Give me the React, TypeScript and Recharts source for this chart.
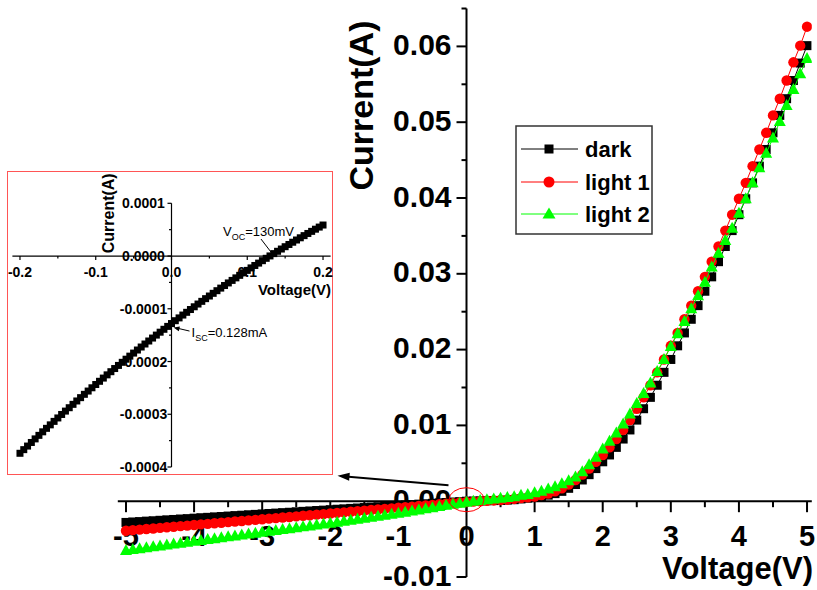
import React from 'react';
import { ScatterChart, Scatter, XAxis, YAxis, ReferenceLine, ReferenceDot, Legend } from 'recharts';

const FONT = '"Liberation Sans", Arial, Helvetica, sans-serif';

// main sweep, -5 V .. 5 V
const voltage = [
  -5, -4.9, -4.8, -4.7, -4.6, -4.5, -4.4, -4.3, -4.2, -4.1,
  -4, -3.9, -3.8, -3.7, -3.6, -3.5, -3.4, -3.3, -3.2, -3.1,
  -3, -2.9, -2.8, -2.7, -2.6, -2.5, -2.4, -2.3, -2.2, -2.1,
  -2, -1.9, -1.8, -1.7, -1.6, -1.5, -1.4, -1.3, -1.2, -1.1,
  -1, -0.9, -0.8, -0.7, -0.6, -0.5, -0.4, -0.3, -0.2, -0.1,
  0,
  0.1, 0.2, 0.3, 0.4, 0.5, 0.6, 0.7, 0.8, 0.9, 1,
  1.1, 1.2, 1.3, 1.4, 1.5, 1.6, 1.7, 1.8, 1.9, 2,
  2.1, 2.2, 2.3, 2.4, 2.5, 2.6, 2.7, 2.8, 2.9, 3,
  3.1, 3.2, 3.3, 3.4, 3.5, 3.6, 3.7, 3.8, 3.9, 4,
  4.1, 4.2, 4.3, 4.4, 4.5, 4.6, 4.7, 4.8, 4.9, 5,
];

const darkCurrent = [
  -0.0028, -0.00274, -0.00269, -0.00263, -0.00258, -0.00252, -0.00246, -0.00241, -0.00235, -0.0023,
  -0.00224, -0.00218, -0.00213, -0.00207, -0.00202, -0.00196, -0.0019, -0.00185, -0.00179, -0.00174,
  -0.00168, -0.00162, -0.00157, -0.00151, -0.00146, -0.0014, -0.00134, -0.00129, -0.00123, -0.00118,
  -0.00112, -0.00106, -0.00101, -0.00095, -0.0009, -0.00084, -0.00078, -0.00073, -0.00067, -0.00062,
  -0.00056, -0.0005, -0.00045, -0.00039, -0.00034, -0.00028, -0.00022, -0.00017, -0.00011, -0.00006,
  0,
  0.00002, 0.00004, 0.00006, 0.00008, 0.0001, 0.00015, 0.0002, 0.0003, 0.0004, 0.0005,
  0.0006, 0.0008, 0.001, 0.0013, 0.0017, 0.0022, 0.0028, 0.0035, 0.0043, 0.0052,
  0.0061, 0.0071, 0.0082, 0.0094, 0.0107, 0.0122, 0.0137, 0.0153, 0.017, 0.0187,
  0.0205, 0.0222, 0.024, 0.0258, 0.0277, 0.0296, 0.0316, 0.0336, 0.0357, 0.0378,
  0.0399, 0.042, 0.0442, 0.0464, 0.0486, 0.0509, 0.0531, 0.0555, 0.0578, 0.0601,
];

const light1Current = [
  -0.0039, -0.00382, -0.00375, -0.00367, -0.0036, -0.00352, -0.00344, -0.00337, -0.00329, -0.00322,
  -0.00314, -0.00306, -0.00299, -0.00291, -0.00284, -0.00276, -0.00268, -0.00261, -0.00253, -0.00246,
  -0.00238, -0.0023, -0.00223, -0.00215, -0.00208, -0.002, -0.00192, -0.00185, -0.00177, -0.0017,
  -0.00162, -0.00154, -0.00147, -0.00139, -0.00132, -0.00124, -0.00116, -0.00109, -0.00101, -0.00094,
  -0.00086, -0.00078, -0.00071, -0.00063, -0.00056, -0.00048, -0.0004, -0.00033, -0.00025, -0.00018,
  -0.0001,
  -0.00005, 0, 0.00005, 0.0001, 0.00015, 0.0002, 0.0003, 0.0004, 0.0005, 0.0006,
  0.0008, 0.001, 0.0013, 0.0017, 0.0022, 0.0028, 0.0035, 0.0043, 0.0052, 0.0061,
  0.0071, 0.0082, 0.0094, 0.0107, 0.0122, 0.0137, 0.0153, 0.017, 0.0187, 0.0205,
  0.0222, 0.024, 0.0258, 0.0277, 0.0296, 0.0316, 0.0336, 0.0357, 0.0378, 0.0399,
  0.042, 0.0442, 0.0464, 0.0486, 0.0509, 0.0531, 0.0555, 0.0579, 0.0601, 0.0626,
];

const light2Current = [
  -0.0065, -0.00638, -0.00626, -0.00614, -0.00602, -0.0059, -0.00578, -0.00566, -0.00554, -0.00542,
  -0.0053, -0.00518, -0.00506, -0.00494, -0.00482, -0.0047, -0.00458, -0.00446, -0.00434, -0.00422,
  -0.0041, -0.00398, -0.00386, -0.00374, -0.00362, -0.0035, -0.00338, -0.00326, -0.00314, -0.00302,
  -0.0029, -0.00277, -0.00264, -0.00251, -0.00238, -0.00225, -0.00212, -0.00199, -0.00186, -0.00173,
  -0.0016, -0.00145, -0.0013, -0.00115, -0.001, -0.00085, -0.0007, -0.00055, -0.0004, -0.00026,
  -0.00013,
  -0.00001, 0.0001, 0.0002, 0.0003, 0.0004, 0.0005, 0.0006, 0.0008, 0.0009, 0.0011,
  0.0013, 0.0016, 0.0019, 0.0023, 0.0027, 0.0032, 0.0039, 0.0048, 0.0058, 0.0069,
  0.0079, 0.009, 0.0102, 0.0115, 0.0129, 0.0142, 0.0156, 0.0171, 0.0187, 0.0204,
  0.0221, 0.0237, 0.0254, 0.0271, 0.0289, 0.0309, 0.0327, 0.0344, 0.036, 0.038,
  0.0399, 0.042, 0.044, 0.0459, 0.0479, 0.0501, 0.0522, 0.0543, 0.0564, 0.0584,
];

const seriesNames = ['dark', 'light 1', 'light 2'];

// inset, close to 0 V
const insetVoltage = [
  -0.2, -0.195, -0.19, -0.185, -0.18, -0.175, -0.17, -0.165, -0.16, -0.155,
  -0.15, -0.145, -0.14, -0.135, -0.13, -0.125, -0.12, -0.115, -0.11, -0.105,
  -0.1, -0.095, -0.09, -0.085, -0.08, -0.075, -0.07, -0.065, -0.06, -0.055,
  -0.05, -0.045, -0.04, -0.035, -0.03, -0.025, -0.02, -0.015, -0.01, -0.005,
  0,
  0.005, 0.01, 0.015, 0.02, 0.025, 0.03, 0.035, 0.04, 0.045, 0.05,
  0.055, 0.06, 0.065, 0.07, 0.075, 0.08, 0.085, 0.09, 0.095, 0.1,
  0.105, 0.11, 0.115, 0.12, 0.125, 0.13, 0.135, 0.14, 0.145, 0.15,
  0.155, 0.16, 0.165, 0.17, 0.175, 0.18, 0.185, 0.19, 0.195, 0.2,
];

const insetCurrent = [
  -0.000374, -0.0003671, -0.0003603, -0.0003535, -0.0003467, -0.00034, -0.0003333, -0.0003267, -0.0003201, -0.0003135,
  -0.000307, -0.0003004, -0.000294, -0.0002876, -0.0002812, -0.0002748, -0.0002685, -0.0002622, -0.000256, -0.0002498,
  -0.0002436, -0.0002375, -0.0002314, -0.0002253, -0.0002193, -0.0002133, -0.0002074, -0.0002015, -0.0001956, -0.0001898,
  -0.000184, -0.0001782, -0.0001725, -0.0001668, -0.0001611, -0.0001555, -0.0001499, -0.0001444, -0.0001389, -0.0001334,
  -0.000128,
  -0.0001226, -0.0001173, -0.0001119, -0.0001067, -0.0001014, -0.0000962, -0.000091, -0.0000859, -0.0000808, -0.0000758,
  -0.0000707, -0.0000657, -0.0000608, -0.0000559, -0.000051, -0.0000462, -0.0000414, -0.0000366, -0.0000319, -0.0000272,
  -0.0000225, -0.0000179, -0.0000134, -0.0000088, -0.0000043, 0.0000002, 0.0000046, 0.000009, 0.0000133, 0.0000177,
  0.0000219, 0.0000262, 0.0000304, 0.0000346, 0.0000387, 0.0000428, 0.0000468, 0.0000509, 0.0000549, 0.0000588,
];

// tick positions / labels
const xMajor = [-5, -4, -3, -2, -1, 0, 1, 2, 3, 4, 5];
const xMinor = [-4.5, -3.5, -2.5, -1.5, -0.5, 0.5, 1.5, 2.5, 3.5, 4.5];
const yMajor = [-0.01, 0, 0.01, 0.02, 0.03, 0.04, 0.05, 0.06];
const yMajorLabels = ['-0.01', '0.00', '0.01', '0.02', '0.03', '0.04', '0.05', '0.06'];
const yMinor = [-0.005, 0.005, 0.015, 0.025, 0.035, 0.045, 0.055, 0.065];

const insetXMajor = [-0.2, -0.1, 0, 0.1, 0.2];
const insetXLabels = ['-0.2', '-0.1', '0.0', '0.1', '0.2'];
const insetXMinor = [-0.15, -0.05, 0.05, 0.15];
const insetYMajor = [0.0001, 0, -0.0001, -0.0002, -0.0003, -0.0004];
const insetYLabels = ['0.0001', '0.0000', '-0.0001', '-0.0002', '-0.0003', '-0.0004'];
const insetYMinor = [0.00005, -0.00005, -0.00015, -0.00025, -0.00035];

const darkData = voltage.map((v, k) => ({ v, i: darkCurrent[k] }));
const light1Data = voltage.map((v, k) => ({ v, i: light1Current[k] }));
const light2Data = voltage.map((v, k) => ({ v, i: light2Current[k] }));
const insetData = insetVoltage.map((v, k) => ({ v, i: insetCurrent[k] }));

// marker shapes
const squareMark = (p: any) => <rect x={p.cx - 4.5} y={p.cy - 4.5} width={9} height={9} fill="#000" />;
const circleMark = (p: any) => <circle cx={p.cx} cy={p.cy} r={5.2} fill="#ff0000" />;
const triangleMark = (p: any) => (
  <polygon points={`${p.cx},${p.cy - 6.5} ${p.cx + 6},${p.cy + 4.5} ${p.cx - 6},${p.cy + 4.5}`} fill="#00ff00" />
);
const smallSquare = (p: any) => <rect x={p.cx - 3.5} y={p.cy - 3.5} width={7} height={7} fill="#000" />;

// tick helpers
const xTick = (label: string | null, len: number, font: number, dy: number, w: number) => (p: any) => (
  <g>
    <line x1={p.cx} y1={p.cy} x2={p.cx} y2={p.cy + len} stroke="#000" strokeWidth={w} />
    {label != null && (
      <text x={p.cx} y={p.cy + dy} textAnchor="middle" fontSize={font} fontWeight="bold" fontFamily={FONT} fill="#000">
        {label}
      </text>
    )}
  </g>
);

const yTick = (label: string | null, len: number, font: number, dx: number, dy: number, w: number, anchor = 'end') => (p: any) => (
  <g>
    <line x1={p.cx} y1={p.cy} x2={p.cx - len} y2={p.cy} stroke="#000" strokeWidth={w} />
    {label != null && (
      <text x={p.cx - dx} y={p.cy + dy} textAnchor={anchor} fontSize={font} fontWeight="bold" fontFamily={FONT} fill="#000">
        {label}
      </text>
    )}
  </g>
);

const mainYTitle = (p: any) => (
  <text transform={`translate(${p.cx - 94},${p.cy + 97}) rotate(-90)`} textAnchor="middle" fontSize={34} fontWeight="bold" fontFamily={FONT} fill="#000">
    Current(A)
  </text>
);

const mainXTitle = (p: any) => (
  <text x={p.cx + 6} y={p.cy + 78} textAnchor="end" fontSize={31} fontWeight="bold" fontFamily={FONT} fill="#000">
    Voltage(V)
  </text>
);

// red circle round the origin and the arrow to the inset
const originMark = (p: any) => (
  <g>
    <ellipse cx={p.cx} cy={p.cy - 1.5} rx={17.5} ry={12} fill="none" stroke="#ff0000" strokeWidth={1} />
    <line x1={p.cx - 18} y1={p.cy - 16} x2={p.cx - 118} y2={p.cy - 24.5} stroke="#000" strokeWidth={2} />
    <polygon
      points={`${p.cx - 129},${p.cy - 25.5} ${p.cx - 116.7},${p.cy - 28.5} ${p.cx - 117.4},${p.cy - 20.5}`}
      fill="#000"
    />
  </g>
);

const insetYTitle = (p: any) => (
  <text transform={`translate(${p.cx - 58},${p.cy + 10}) rotate(-90)`} textAnchor="middle" fontSize={16} fontWeight="bold" fontFamily={FONT} fill="#000">
    Current(A)
  </text>
);

const insetXTitle = (p: any) => (
  <text x={p.cx + 8} y={p.cy + 39} textAnchor="end" fontSize={15} fontWeight="bold" fontFamily={FONT} fill="#000">
    Voltage(V)
  </text>
);

const vocNote = (p: any) => (
  <g fontFamily={FONT} fill="#000">
    <text x={p.cx - 47} y={p.cy - 20} fontSize={13}>
      V<tspan fontSize={9} dy={4}>OC</tspan>
      <tspan dy={-4}>=130mV</tspan>
    </text>
    <line x1={p.cx - 9} y1={p.cy - 17} x2={p.cx + 1} y2={p.cy - 4} stroke="#000" strokeWidth={1} />
  </g>
);

const iscNote = (p: any) => (
  <g fontFamily={FONT} fill="#000">
    <line x1={p.cx + 18} y1={p.cy + 7.5} x2={p.cx + 6} y2={p.cy + 4.7} stroke="#000" strokeWidth={1} />
    <polygon points={`${p.cx + 2},${p.cy + 4} ${p.cx + 8.4},${p.cy + 2.9} ${p.cx + 7.3},${p.cy + 7.8}`} fill="#000" />
    <text x={p.cx + 20} y={p.cy + 13} fontSize={13}>
      I<tspan fontSize={9} dy={4}>SC</tspan>
      <tspan dy={-4}>=0.128mA</tspan>
    </text>
  </g>
);

const legendMarks = [
  { color: '#000', mark: (x: number, y: number) => <rect x={x - 4.5} y={y - 4.5} width={9} height={9} fill="#000" /> },
  { color: '#ff0000', mark: (x: number, y: number) => <circle cx={x} cy={y} r={5.5} fill="#ff0000" /> },
  {
    color: '#00ff00',
    mark: (x: number, y: number) => <polygon points={`${x},${y - 6.5} ${x + 6.5},${y + 4.5} ${x - 6.5},${y + 4.5}`} fill="#00ff00" />,
  },
];

function LegendBox() {
  const rows = [24, 57, 89];
  return (
    <svg width={140} height={112} style={{ display: 'block' }}>
      <rect x={1} y={1} width={136} height={108} fill="#fff" stroke="#333" strokeWidth={1.5} />
      {seriesNames.map((name, k) => (
        <g key={name}>
          <line x1={6} y1={rows[k]} x2={63} y2={rows[k]} stroke={legendMarks[k].color} strokeWidth={1} />
          {legendMarks[k].mark(34, rows[k])}
          <text x={70} y={rows[k] + 8} fontSize={22} fontWeight="bold" fontFamily={FONT} fill="#000">
            {name}
          </text>
        </g>
      ))}
    </svg>
  );
}

export default function App() {
  return (
    <div style={{ position: 'absolute', left: 0, top: 0, width: 817, height: 590, background: '#fff', fontFamily: FONT }}>
      <ScatterChart width={817} height={590} margin={{ top: 8.5, right: 5.2, bottom: 13, left: 117.8 }}>
        <XAxis type="number" dataKey="v" domain={[-5.12, 5.07]} scale="linear" allowDataOverflow hide />
        <YAxis type="number" dataKey="i" domain={[-0.01, 0.065]} scale="linear" allowDataOverflow hide />

        {xMajor.map((v) => (
          <ReferenceDot key={'xM' + v} x={v} y={0} shape={xTick(String(v), 11, 29, 45, 2)} />
        ))}
        {xMinor.map((v) => (
          <ReferenceDot key={'xm' + v} x={v} y={0} shape={xTick(null, 6, 29, 45, 2)} />
        ))}
        {yMajor.map((v, k) => (
          <ReferenceDot key={'yM' + v} x={0} y={v} shape={yTick(yMajorLabels[k], 10, 30, 15, 8.5, 2)} />
        ))}
        {yMinor.map((v) => (
          <ReferenceDot key={'ym' + v} x={0} y={v} shape={yTick(null, 5, 30, 15, 8.5, 2)} />
        ))}
        <ReferenceLine y={0} stroke="#000" strokeWidth={2} />
        <ReferenceLine x={0} stroke="#000" strokeWidth={2} />
        <ReferenceDot x={0} y={0.065} shape={mainYTitle} />
        <ReferenceDot x={5} y={0} shape={mainXTitle} />

        <Scatter name={seriesNames[0]} data={darkData} dataKey="i" fill="#000" line={{ stroke: '#000', strokeWidth: 1 }} shape={squareMark} isAnimationActive={false} />
        <Scatter name={seriesNames[1]} data={light1Data} dataKey="i" fill="#ff0000" line={{ stroke: '#ff0000', strokeWidth: 1 }} shape={circleMark} isAnimationActive={false} />
        <Scatter name={seriesNames[2]} data={light2Data} dataKey="i" fill="#00ff00" line={{ stroke: '#00ff00', strokeWidth: 1 }} shape={triangleMark} isAnimationActive={false} />

        <ReferenceDot x={0} y={0} shape={originMark} />
        <Legend
          layout="vertical"
          align="center"
          verticalAlign="middle"
          wrapperStyle={{ position: 'absolute', left: 515, top: 125, width: 140, height: 112 }}
          content={() => <LegendBox />}
        />
      </ScatterChart>

      <div
        style={{
          position: 'absolute',
          left: 7,
          top: 171,
          width: 326,
          height: 304,
          border: '1px solid #ff5555',
          boxSizing: 'border-box',
          background: '#fff',
        }}
      >
        <div style={{ position: 'absolute', left: -1, top: -1 }}>
          <ScatterChart width={326} height={304} margin={{ top: 32.3, right: 2.4, bottom: 8, left: 5.4 }}>
            <XAxis type="number" dataKey="v" domain={[-0.21, 0.21]} scale="linear" allowDataOverflow hide />
            <YAxis type="number" dataKey="i" domain={[-0.0004, 0.0001]} scale="linear" allowDataOverflow hide />

            {insetXMajor.map((v, k) => (
              <ReferenceDot key={'ixM' + v} x={v} y={0} shape={xTick(insetXLabels[k], 4, 14, 21, 1.2)} />
            ))}
            {insetXMinor.map((v) => (
              <ReferenceDot key={'ixm' + v} x={v} y={0} shape={xTick(null, 2.5, 14, 21, 1.2)} />
            ))}
            {insetYMajor.map((v, k) => (
              <ReferenceDot key={'iyM' + v} x={0} y={v} shape={yTick(insetYLabels[k], 4, 14, 28, 5, 1.2, 'middle')} />
            ))}
            {insetYMinor.map((v) => (
              <ReferenceDot key={'iym' + v} x={0} y={v} shape={yTick(null, 2.5, 14, 28, 5, 1.2)} />
            ))}
            <ReferenceLine y={0} stroke="#000" strokeWidth={1.2} />
            <ReferenceLine x={0} stroke="#000" strokeWidth={1.2} />
            <ReferenceDot x={0} y={0.0001} shape={insetYTitle} />
            <ReferenceDot x={0.2} y={0} shape={insetXTitle} />

            <Scatter data={insetData} dataKey="i" fill="#000" line={{ stroke: '#000', strokeWidth: 1 }} shape={smallSquare} isAnimationActive={false} />

            <ReferenceDot x={0.13} y={0} shape={vocNote} />
            <ReferenceDot x={0} y={-0.000128} shape={iscNote} />
          </ScatterChart>
        </div>
      </div>
    </div>
  );
}
